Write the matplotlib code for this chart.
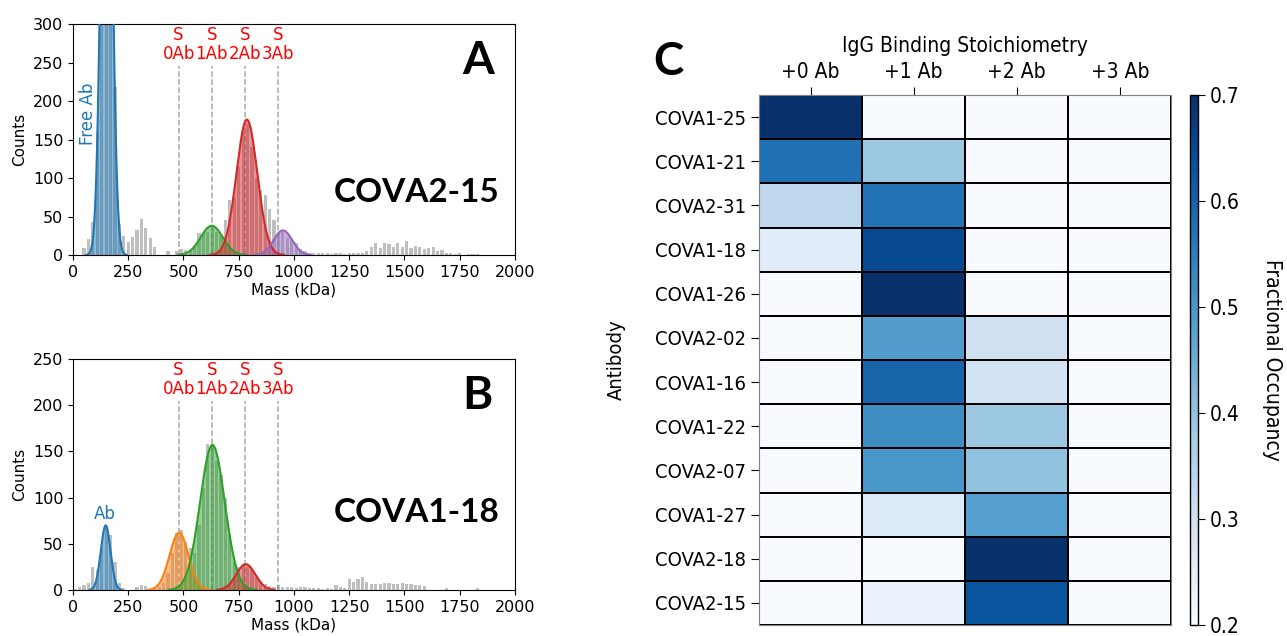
import matplotlib
matplotlib.use("Agg")
import matplotlib.pyplot as plt
import numpy as np

# ---- mass histograms (20 kDa bins, 0-2000 kDa) ----
bin_width = 20
counts_a = [0, 0, 9, 21, 43, 160, 520, 700, 560, 219,
            40, 25, 17, 24, 33, 47, 35, 22, 10, 0,
            0, 5, 0, 5, 8, 6, 6, 12, 28, 28,
            30, 35, 30, 25, 45, 72, 75, 115, 160, 170,
            140, 100, 85, 78, 60, 45, 28, 30, 22, 20,
            15, 8, 5, 3, 2, 3, 3, 2, 1, 2,
            2, 1, 2, 2, 3, 3, 5, 11, 15, 9,
            16, 14, 10, 15, 11, 18, 9, 12, 10, 8,
            9, 10, 5, 6, 3, 3, 1, 2, 0, 1,
            1, 1, 0, 0, 0, 0, 0, 0, 0, 0]
counts_b = [1, 3, 5, 8, 25, 22, 45, 68, 60, 30,
            8, 2, 0, 0, 3, 5, 4, 0, 1, 3,
            8, 18, 40, 62, 65, 52, 45, 40, 70, 110,
            158, 158, 140, 125, 100, 60, 30, 25, 28, 25,
            22, 15, 10, 6, 4, 3, 5, 3, 3, 3,
            2, 3, 3, 2, 2, 2, 1, 2, 1, 5,
            3, 2, 12, 9, 12, 14, 9, 7, 7, 6,
            8, 8, 7, 6, 8, 7, 6, 5, 5, 4,
            0, 0, 0, 0, 2, 0, 0, 0, 0, 0,
            0, 2, 0, 0, 0, 0, 0, 0, 0, 0]

# gaussian fits: (center kDa, sigma kDa, amplitude, colour)
fits_a = [(152, 23, 800, "tab:blue"), (628, 50, 38, "tab:green"),
          (787, 47, 176, "tab:red"), (950, 42, 32, "tab:purple")]
fits_b = [(148, 22, 70, "tab:blue"), (480, 43, 62, "tab:orange"),
          (631, 56, 157, "tab:green"), (782, 43, 28, "tab:red")]

# S trimer + n Ab reference masses
ref_masses = [478, 628, 778, 928]
ref_labels = ["S\n0Ab", "S\n1Ab", "S\n2Ab", "S\n3Ab"]

# ---- heatmap ----
antibodies = ["COVA1-25", "COVA1-21", "COVA2-31", "COVA1-18", "COVA1-26",
              "COVA2-02", "COVA1-16", "COVA1-22", "COVA2-07", "COVA1-27",
              "COVA2-18", "COVA2-15"]
stoich = ["+0 Ab", "+1 Ab", "+2 Ab", "+3 Ab"]
occupancy = [[0.85, 0.10, 0.03, 0.02],
             [0.575, 0.39, 0.02, 0.01],
             [0.335, 0.57, 0.08, 0.01],
             [0.255, 0.65, 0.08, 0.01],
             [0.10, 0.78, 0.10, 0.02],
             [0.15, 0.49, 0.30, 0.06],
             [0.05, 0.60, 0.295, 0.05],
             [0.03, 0.52, 0.39, 0.06],
             [0.04, 0.50, 0.405, 0.05],
             [0.10, 0.265, 0.485, 0.15],
             [0.05, 0.15, 0.75, 0.05],
             [0.05, 0.235, 0.63, 0.085]]

hm_font = dict(family="DejaVu Sans", stretch="condensed")


def gauss(x, c, s, a):
    return a * np.exp(-(x - c) ** 2 / (2 * s ** 2))


def plot_hist(ax, counts, fits, ymax, name, letter, name_y):
    edges = np.arange(len(counts) + 1) * bin_width
    centers = edges[:-1] + bin_width / 2
    ax.bar(centers, counts, width=bin_width * 0.72, color="gray",
           alpha=0.5, zorder=1)
    x = np.linspace(0, 2000, 2001)
    for c, s, a, col in fits:
        y = gauss(x, c, s, a)
        y[y < 0.3] = np.nan
        ax.fill_between(x, 0, y, color=col, alpha=0.5, lw=0, zorder=2)
        ax.plot(x, y, color=col, lw=1.5, zorder=3)
    for m, lab in zip(ref_masses, ref_labels):
        ax.axvline(m, ymin=0, ymax=0.82, color="darkgray", ls="--", lw=1.1,
                   zorder=0)
        ax.text(m, ymax * 0.83, lab, color="red", ha="center", va="bottom",
                fontsize=12, linespacing=1.1)
    ax.set_xlim(0, 2000)
    ax.set_ylim(0, ymax)
    ax.set_xticks(np.arange(0, 2001, 250))
    ax.set_yticks(np.arange(0, ymax + 1, 50))
    ax.tick_params(labelsize=11.5)
    ax.set_xlabel("Mass (kDa)", fontsize=11, labelpad=2)
    ax.set_ylabel("Counts", fontsize=11, labelpad=4)
    ax.text(0.916, 0.84, letter, transform=ax.transAxes, ha="center",
            va="center", fontsize=33, fontweight="bold", family="Lato")
    ax.text(0.778, name_y, name, transform=ax.transAxes, ha="center",
            va="center", fontsize=24, fontweight="bold", family="Lato")


fig = plt.figure(figsize=(12.87, 6.36), dpi=100)

ax_a = fig.add_axes([0.0567, 0.599, 0.3434, 0.363])
plot_hist(ax_a, counts_a, fits_a, 300, "COVA2-15", "A", 0.27)
ax_a.text(68, 184, "Free Ab", color="tab:blue", rotation=90, ha="center",
          va="center", fontsize=12)

ax_b = fig.add_axes([0.0567, 0.0723, 0.3434, 0.363])
plot_hist(ax_b, counts_b, fits_b, 250, "COVA1-18", "B", 0.335)
ax_b.text(145, 82, "Ab", color="tab:blue", ha="center", va="center",
          fontsize=12)

# heatmap panel
ax_c = fig.add_axes([0.5897, 0.0173, 0.3205, 0.8333])
data = np.array(occupancy)
mesh = ax_c.pcolormesh(data, cmap="Blues", vmin=0.2, vmax=0.7,
                       edgecolors="black", linewidth=1.2)
ax_c.set_xlim(0, len(stoich))
ax_c.set_ylim(len(antibodies), 0)
ax_c.set_xticks(np.arange(len(stoich)) + 0.5)
ax_c.set_xticklabels(stoich, fontsize=15, **hm_font)
ax_c.set_yticks(np.arange(len(antibodies)) + 0.5)
ax_c.set_yticklabels(antibodies, fontsize=14.5, **hm_font)
ax_c.xaxis.tick_top()
ax_c.xaxis.set_label_position("top")
ax_c.tick_params(length=6)
ax_c.set_xlabel("IgG Binding Stoichiometry", fontsize=15, labelpad=7,
                **hm_font)
ax_c.set_ylabel("Antibody", fontsize=14.5, labelpad=21, **hm_font)
for sp in ax_c.spines.values():
    sp.set_color("gray")

cax = fig.add_axes([0.9246, 0.0173, 0.0065, 0.8333])
cb = fig.colorbar(mesh, cax=cax, ticks=[0.2, 0.3, 0.4, 0.5, 0.6, 0.7])
cb.ax.tick_params(labelsize=15, length=5)
for t in cb.ax.get_yticklabels():
    t.set_fontstretch("condensed")
cb.set_label("Fractional Occupancy", rotation=270, fontsize=15,
             labelpad=30, **hm_font)
cb.outline.set_linewidth(1)

fig.text(0.519, 0.9025, "C", ha="center", va="center", fontsize=33,
         fontweight="bold", family="Lato")

fig.savefig("out.png", dpi=100)
